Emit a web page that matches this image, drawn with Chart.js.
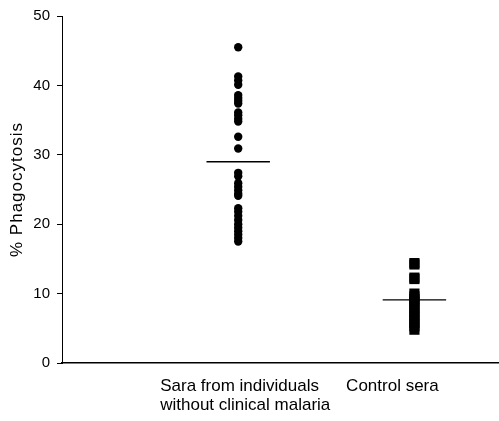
<!DOCTYPE html>
<html>
<head>
<meta charset="utf-8">
<script src="https://cdn.jsdelivr.net/npm/chart.js@4.4.0/dist/chart.umd.min.js"></script>
<style>
  html, body { margin: 0; padding: 0; background: #fff; }
  #wrap { width: 499px; height: 421px; position: relative; }
</style>
</head>
<body>
<div id="wrap"><canvas id="chart"></canvas></div>
<script>
// values
const groups = ['Sara from individuals\nwithout clinical malaria', 'Control sera'];
const seraValues = [45.5, 41.3, 40.7, 40.1, 38.6, 38.2, 37.8, 37.4, 36.1, 35.7, 35.2, 34.8,
  32.6, 30.9, 27.4, 26.9, 25.9, 25.4, 24.9, 24.4, 24.1, 22.3, 21.8, 21.2, 20.6, 20.0,
  19.5, 19.0, 18.5, 18.0, 17.5];
const controlValues = [14.4, 14.2, 12.3, 12.1, 10.0, 9.6, 9.2, 8.8, 8.3, 7.8, 7.3, 6.8,
  6.3, 5.8, 5.3, 4.8];
const means = [29.0, 9.1];
const yTicks = [0, 10, 20, 30, 40, 50];

const FONT = '"Liberation Sans", Arial, sans-serif';
const halfWidth = 0.18;

const toPoints = (vals, x) => vals.map(v => ({ x: x, y: v }));

const meanLine = (i) => ({
  type: 'line',
  data: [{ x: i + 1 - halfWidth, y: means[i] }, { x: i + 1 + halfWidth, y: means[i] }],
  borderColor: '#000',
  borderWidth: 1.3,
  pointRadius: 0,
  showLine: true
});

const textPlugin = {
  id: 'texts',
  afterDraw(chart) {
    const c = chart.ctx;
    const xs = chart.scales.x;
    const ys = chart.scales.y;
    c.save();
    c.fillStyle = '#000';
    c.font = '17px ' + FONT;
    c.textBaseline = 'middle';
    // category labels
    const l1 = groups[0].split('\n');
    c.textAlign = 'left';
    l1.forEach((t, k) => c.fillText(t, xs.getPixelForValue(1) - 78, 386 + k * 19));
    c.textAlign = 'center';
    c.fillText(groups[1], xs.getPixelForValue(2) - 22, 386);
    // y axis title
    c.translate(17, (ys.top + ys.bottom) / 2);
    c.rotate(-Math.PI / 2);
    c.letterSpacing = '1px';
    c.fillText('% Phagocytosis', 0, 0);
    c.restore();
  }
};

new Chart(document.getElementById('chart'), {
  type: 'scatter',
  data: {
    datasets: [
      {
        data: toPoints(seraValues, 1),
        backgroundColor: '#000',
        borderColor: '#000',
        pointStyle: 'circle',
        pointRadius: 4.2,
        borderWidth: 0
      },
      {
        data: toPoints(controlValues, 2),
        backgroundColor: '#000',
        borderColor: '#000',
        pointStyle: 'rect',
        pointRadius: 7.2,
        borderWidth: 0
      },
      meanLine(0),
      meanLine(1)
    ]
  },
  options: {
    responsive: true,
    maintainAspectRatio: false,
    animation: false,
    layout: { autoPadding: false, padding: { top: 15, right: 0, left: 0, bottom: 0 } },
    plugins: {
      legend: { display: false },
      tooltip: { enabled: false }
    },
    scales: {
      x: {
        type: 'linear',
        min: 0,
        max: 2.48,
        ticks: { display: false },
        grid: { display: false },
        border: { display: true, color: '#000', width: 1.5 },
        afterFit: (s) => { s.height = 58; }
      },
      y: {
        min: 0,
        max: 50,
        afterBuildTicks: (s) => { s.ticks = yTicks.map(v => ({ value: v })); },
        ticks: {
          color: '#000',
          padding: 7,
          font: { family: FONT, size: 15 }
        },
        grid: {
          drawOnChartArea: false,
          tickLength: 5,
          tickColor: '#000',
          tickWidth: 1
        },
        border: { display: true, color: '#000', width: 1 },
        afterFit: (s) => { s.width = 62; }
      }
    }
  },
  plugins: [textPlugin]
});
</script>
</body>
</html>
